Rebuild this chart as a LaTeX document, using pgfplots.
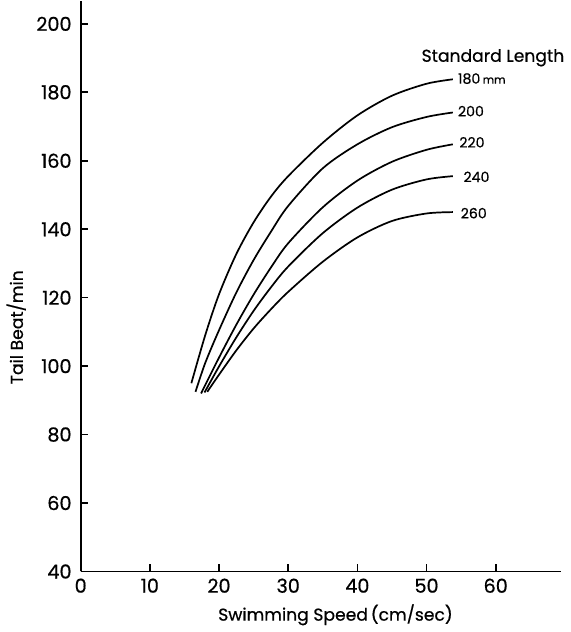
\documentclass[border=0pt]{standalone}
\usepackage{fontspec}
\setmainfont{Poppins}[UprightFeatures={FakeBold=0.6}]
\usepackage{pgfplots}
\pgfplotsset{compat=1.18}

\begin{document}
\begin{tikzpicture}
\begin{axis}[
    scale only axis,
    width=238pt, height=282.5pt,
    xmin=0, xmax=69.5,
    ymin=40, ymax=206.7,
    axis x line*=bottom, axis y line*=left,
    axis line style={line width=0.9pt},
    xtick align=inside, ytick align=inside,
    tickwidth=3.5pt,
    xtick style={draw=black, line width=0.8pt},
    ytick style={draw=black, line width=0.8pt},
    xtick={0,10,...,60},
    ytick={40,60,...,200},
    /pgf/number format/assume math mode=true,
    tick label style={font=\fontsize{9.5}{11}\selectfont},
    yticklabel style={xshift=-1pt},
    xlabel={Swimming Speed\,(cm/sec)},
    ylabel={Tail Beat/min},
    label style={font=\fontsize{8.5}{10}\selectfont},
    xlabel style={at={(axis description cs:0.53,-0.076)}, anchor=center},
    ylabel style={at={(axis description cs:-0.134,0.428)}, anchor=center},
    clip=false,
]
% 180 mm
\addplot[black, line width=0.85pt, smooth, mark=none] coordinates {(16,95) (18,109) (20,121) (22.5,132.75) (25,142) (27.5,149.5) (30,155.5) (35,165.25) (40,173.25) (45,179) (50,182.5) (53.8,183.8)};
% 200
\addplot[black, line width=0.85pt, smooth, mark=none] coordinates {(16.6,92.5) (18,100.9) (20,110.5) (22.5,121.5) (25,131) (27.5,139.25) (30,146.8) (35,157.8) (40,164.8) (45,169.8) (50,172.8) (53.8,174.1)};
% 220
\addplot[black, line width=0.85pt, smooth, mark=none] coordinates {(17.4,92) (20,102.5) (22.5,112.1) (25,120.9) (27.5,128.8) (30,135.9) (35,146.4) (40,154.2) (45,159.7) (50,163.2) (53.8,164.8)};
% 240
\addplot[black, line width=0.85pt, smooth, mark=none] coordinates {(17.9,92.3) (20,99.9) (22.5,108.4) (25,116.15) (27.5,123) (30,129.1) (35,138.85) (40,146.3) (45,151.55) (50,154.55) (53.8,155.5)};
% 260
\addplot[black, line width=0.85pt, smooth, mark=none] coordinates {(18.3,92.5) (20,97.5) (22.5,104.6) (25,111) (27.5,116.6) (30,121.7) (35,130.5) (40,137.6) (45,142.4) (50,144.6) (53.8,145)};

\node[font=\fontsize{8.5}{10}\selectfont] at (axis cs:59.6,190.1) {Standard Length};
\node[anchor=west, font=\fontsize{7}{8}\selectfont, inner sep=1pt] at (axis cs:54.2,184) {180\,{\fontsize{5.5}{6}\selectfont mm}};
\node[anchor=west, font=\fontsize{7}{8}\selectfont, inner sep=1pt] at (axis cs:54.2,174.5) {200};
\node[anchor=west, font=\fontsize{7}{8}\selectfont, inner sep=1pt] at (axis cs:54.4,165.4) {220};
\node[anchor=west, font=\fontsize{7}{8}\selectfont, inner sep=1pt] at (axis cs:55,155.3) {240};
\node[anchor=west, font=\fontsize{7}{8}\selectfont, inner sep=1pt] at (axis cs:54.6,144.7) {260};
\end{axis}
\end{tikzpicture}
\end{document}
